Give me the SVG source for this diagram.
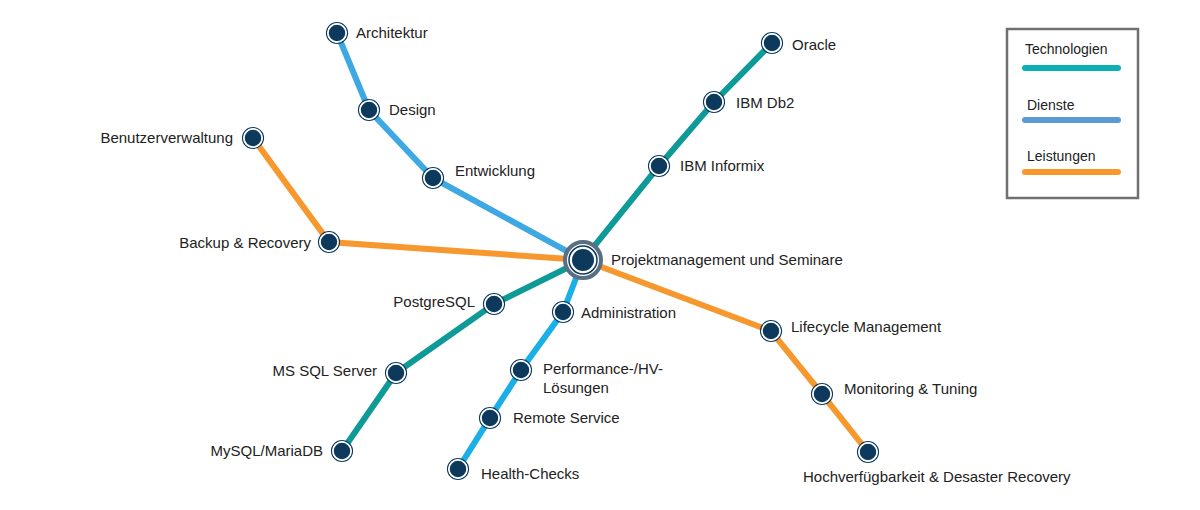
<svg xmlns="http://www.w3.org/2000/svg" width="1200" height="510" viewBox="0 0 1200 510">
<style>
text{font-family:"Liberation Sans",Arial,sans-serif;font-size:15px;fill:#222}
.t{stroke:#0e9a96;stroke-width:6;fill:none}
.d{stroke:#3ea8e2;stroke-width:6;fill:none}
.l{stroke:#f7982f;stroke-width:6;fill:none}
.n{fill:#0d3a5c;stroke:#fff;stroke-width:1.5}
.o{fill:none;stroke:#0d3a5c;stroke-width:1.2}
</style>
<defs>
<g id="nd"><circle r="10.5" class="o"/><circle r="9" class="n"/></g>
</defs>
<g id="connectors">
<polyline class="d" points="337,33 369,110 433,178 583,260"/>
<polyline class="t" points="772,43 714,102 659,166 583,260"/>
<polyline class="l" points="253,138 329,242 583,260"/>
<polyline class="t" points="583,260 494,304 396,373 342,451"/>
<polyline class="d" style="stroke:#1aafe6" points="583,260 563,312 521,370 490,418 458,469"/>
<polyline class="l" points="583,260 771,331 822,394 868,452"/>
</g>
<g id="center"><circle cx="583" cy="260" r="18" fill="#fff" stroke="#5a6f80" stroke-width="4"/><circle cx="583" cy="260" r="14" fill="none" stroke="#0d3a5c" stroke-width="1.5"/><circle cx="583" cy="260" r="11" fill="#0d3a5c"/><text x="611" y="265">Projektmanagement und Seminare</text></g>
<g id="architektur"><use href="#nd" x="337" y="33"/><text x="356" y="38">Architektur</text></g>
<g id="design"><use href="#nd" x="369" y="110"/><text x="389" y="115">Design</text></g>
<g id="entwicklung"><use href="#nd" x="433" y="178"/><text x="455" y="176">Entwicklung</text></g>
<g id="oracle"><use href="#nd" x="772" y="43"/><text x="792" y="50">Oracle</text></g>
<g id="db2"><use href="#nd" x="714" y="102"/><text x="736" y="108">IBM Db2</text></g>
<g id="informix"><use href="#nd" x="659" y="166"/><text x="680" y="171">IBM Informix</text></g>
<g id="benutzer"><use href="#nd" x="253" y="138"/><text x="233" y="143" text-anchor="end">Benutzerverwaltung</text></g>
<g id="backup"><use href="#nd" x="329" y="242"/><text x="311" y="248" text-anchor="end">Backup &amp; Recovery</text></g>
<g id="postgres"><use href="#nd" x="494" y="304"/><text x="475" y="307" text-anchor="end">PostgreSQL</text></g>
<g id="mssql"><use href="#nd" x="396" y="373"/><text x="377" y="376" text-anchor="end">MS SQL Server</text></g>
<g id="mysql"><use href="#nd" x="342" y="451"/><text x="323" y="456" text-anchor="end">MySQL/MariaDB</text></g>
<g id="admin"><use href="#nd" x="563" y="312"/><text x="581" y="318">Administration</text></g>
<g id="perf"><use href="#nd" x="521" y="370"/><text x="543" y="374">Performance-/HV-</text><text x="543" y="393">Lösungen</text></g>
<g id="remote"><use href="#nd" x="490" y="418"/><text x="513" y="423">Remote Service</text></g>
<g id="health"><use href="#nd" x="458" y="469"/><text x="481" y="479">Health-Checks</text></g>
<g id="lifecycle"><use href="#nd" x="771" y="331"/><text x="791" y="332">Lifecycle Management</text></g>
<g id="monitoring"><use href="#nd" x="822" y="394"/><text x="844" y="394">Monitoring &amp; Tuning</text></g>
<g id="hochverf"><use href="#nd" x="868" y="452"/><text x="803" y="482">Hochverfügbarkeit &amp; Desaster Recovery</text></g>
<g id="legend">
<rect x="1007" y="29" width="131" height="169" fill="#fff" stroke="#707070" stroke-width="2.5"/>
<text x="1025" y="54" style="font-size:14px">Technologien</text>
<line x1="1025" y1="68" x2="1118" y2="68" stroke="#0ab0b2" stroke-width="6" stroke-linecap="round"/>
<text x="1027" y="110" style="font-size:14px">Dienste</text>
<line x1="1025" y1="120" x2="1118" y2="120" stroke="#5b9bd5" stroke-width="6" stroke-linecap="round"/>
<text x="1027" y="161" style="font-size:14px">Leistungen</text>
<line x1="1025" y1="172" x2="1118" y2="172" stroke="#f7982f" stroke-width="6" stroke-linecap="round"/>
</g>
</svg>
